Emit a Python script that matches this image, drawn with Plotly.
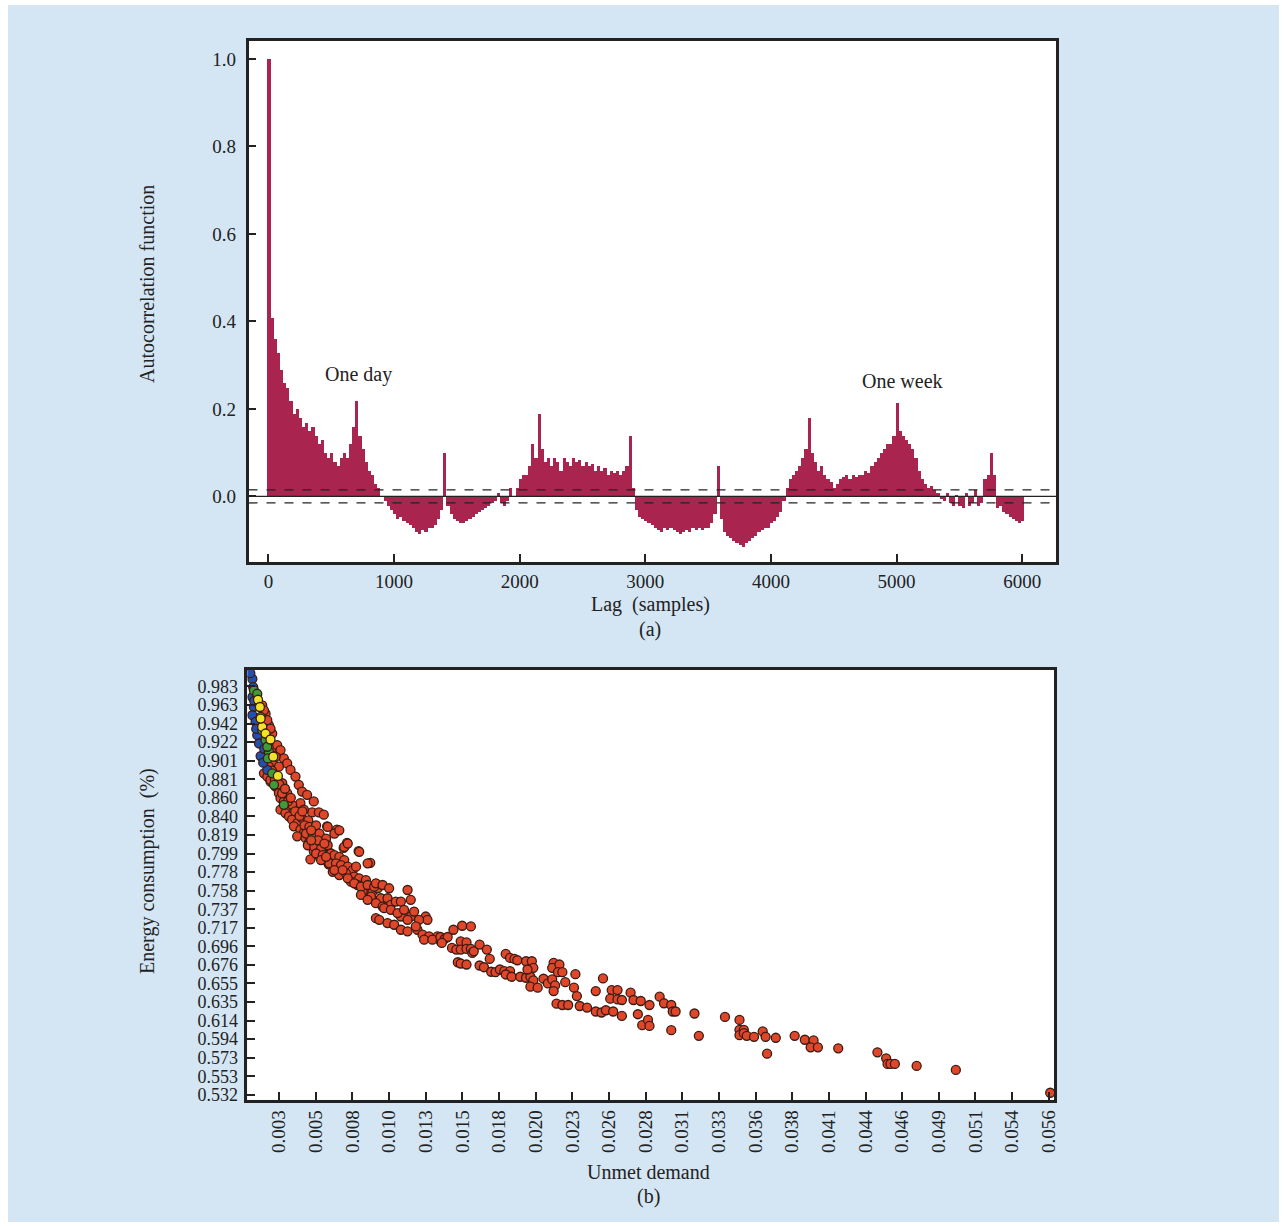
import plotly.graph_objects as go

W, H = 1286, 1226

# ---------------- Panel (a): autocorrelation ----------------
lag_step = 25
lags = list(range(0, 6001, lag_step))
acf = [
    1.00, 0.41, 0.36, 0.33, 0.29, 0.26, 0.25, 0.22, 0.19, 0.20, 0.18, 0.16, 0.17, 0.15, 0.16, 0.14, 0.12, 0.13, 0.10, 0.09,
    0.10, 0.08, 0.07, 0.09, 0.10, 0.09, 0.12, 0.16, 0.22, 0.14, 0.11, 0.08, 0.06, 0.05, 0.03, 0.02, 0.00, -0.01, -0.02, -0.03,
    -0.04, -0.05, -0.045, -0.055, -0.06, -0.065, -0.07, -0.08, -0.085, -0.075, -0.08, -0.07, -0.07, -0.065, -0.05, -0.03, 0.10, -0.02, -0.04, -0.05,
    -0.055, -0.06, -0.06, -0.055, -0.05, -0.045, -0.04, -0.035, -0.03, -0.025, -0.02, -0.015, -0.01, 0.01, -0.015, -0.02, -0.01, 0.02, 0.00, 0.02,
    0.04, 0.05, 0.05, 0.07, 0.12, 0.09, 0.19, 0.11, 0.08, 0.09, 0.07, 0.09, 0.08, 0.06, 0.09, 0.08, 0.07, 0.09, 0.08, 0.085,
    0.07, 0.08, 0.07, 0.075, 0.06, 0.07, 0.06, 0.065, 0.05, 0.06, 0.055, 0.06, 0.05, 0.06, 0.07, 0.14, 0.02, -0.03, -0.045, -0.05,
    -0.055, -0.06, -0.065, -0.07, -0.075, -0.08, -0.07, -0.075, -0.07, -0.075, -0.08, -0.085, -0.08, -0.075, -0.08, -0.07, -0.075, -0.07, -0.075, -0.07,
    -0.07, -0.06, -0.04, 0.07, -0.05, -0.08, -0.09, -0.095, -0.10, -0.105, -0.11, -0.115, -0.105, -0.10, -0.095, -0.09, -0.08, -0.075, -0.07, -0.07,
    -0.06, -0.055, -0.045, -0.035, -0.01, 0.02, 0.04, 0.05, 0.06, 0.07, 0.09, 0.11, 0.18, 0.10, 0.08, 0.06, 0.07, 0.05, 0.04, 0.035,
    0.02, 0.03, 0.04, 0.045, 0.05, 0.04, 0.05, 0.045, 0.05, 0.05, 0.06, 0.055, 0.07, 0.08, 0.09, 0.10, 0.11, 0.12, 0.12, 0.14,
    0.215, 0.15, 0.14, 0.13, 0.12, 0.11, 0.09, 0.06, 0.04, 0.03, 0.02, 0.025, 0.015, 0.01, -0.005, -0.01, 0.01, -0.015, -0.02, 0.005,
    -0.02, -0.025, 0.01, -0.02, -0.015, 0.015, -0.02, -0.015, 0.04, 0.05, 0.10, 0.05, -0.025, -0.02, -0.035, -0.04, -0.045, -0.05, -0.055, -0.06,
    -0.055,
]
conf_bound = 0.015
acf_ticks = [0.0, 0.2, 0.4, 0.6, 0.8, 1.0]
lag_ticks = [0, 1000, 2000, 3000, 4000, 5000, 6000]
annot_a = [("One day", 720, 0.278), ("One week", 5044, 0.264)]

# ---------------- Panel (b): scatter ----------------
x_tick_labels = ["0.003", "0.005", "0.008", "0.010", "0.013", "0.015", "0.018", "0.020", "0.023", "0.026", "0.028",
                 "0.031", "0.033", "0.036", "0.038", "0.041", "0.044", "0.046", "0.049", "0.051", "0.054", "0.056"]
y_tick_labels = ["0.983", "0.963", "0.942", "0.922", "0.901", "0.881", "0.860", "0.840", "0.819", "0.799", "0.778", "0.758",
                 "0.737", "0.717", "0.696", "0.676", "0.655", "0.635", "0.614", "0.594", "0.573", "0.553", "0.532"]

red_points = [
    # upper part of the curve
    (0.00183, 0.9621), (0.00206, 0.9529), (0.00229, 0.9402), (0.00252, 0.9310), (0.00240, 0.9200), (0.00264, 0.9145),
    (0.00286, 0.9072), (0.00206, 0.9419), (0.00195, 0.9566), (0.00218, 0.9457), (0.00240, 0.9365), (0.00286, 0.9182),
    (0.00309, 0.9127), (0.00332, 0.9035), (0.00355, 0.8980), (0.00378, 0.8908), (0.00412, 0.8834), (0.00435, 0.8743),
    (0.00458, 0.8669), (0.00492, 0.8633), (0.00538, 0.8560), (0.00527, 0.8439), (0.00573, 0.8439), (0.00607, 0.8414),
    (0.00630, 0.8285), (0.00698, 0.8249), (0.00744, 0.8047), (0.00767, 0.8102), (0.00847, 0.8011), (0.00927, 0.7882),
    # dense band
    (0.00195, 0.8870), (0.00218, 0.8834), (0.00240, 0.8779), (0.00275, 0.8724), (0.00298, 0.8651), (0.00309, 0.8596),
    (0.00332, 0.8560), (0.00355, 0.8505), (0.00309, 0.8469), (0.00343, 0.8431), (0.00367, 0.8395), (0.00389, 0.8359),
    (0.00424, 0.8321), (0.00401, 0.8285), (0.00446, 0.8249), (0.00470, 0.8212), (0.00424, 0.8175), (0.00481, 0.8157),
    (0.00504, 0.8102), (0.00527, 0.8066), (0.00538, 0.8011), (0.00561, 0.7974), (0.00595, 0.7937), (0.00630, 0.7901),
    (0.00641, 0.7865), (0.00676, 0.7956), (0.00721, 0.7920), (0.00515, 0.7920), (0.00584, 0.8139), (0.00607, 0.8102),
    (0.00573, 0.8029), (0.00458, 0.8376), (0.00492, 0.8321), (0.00538, 0.8285), (0.00561, 0.8212), (0.00446, 0.8541),
    (0.00470, 0.8469), (0.00389, 0.8523), (0.00355, 0.8651), (0.00321, 0.8761), (0.00286, 0.8834), (0.00264, 0.8963),
    (0.00298, 0.8944), (0.00275, 0.9054), (0.00240, 0.8798), (0.00229, 0.8944),
    (0.00410, 0.8450), (0.00440, 0.8400), (0.00360, 0.8560), (0.00320, 0.8650), (0.00500, 0.8350), (0.00530, 0.8250),
    (0.00580, 0.8180), (0.00600, 0.8050), (0.00650, 0.7990), (0.00700, 0.7910), (0.00270, 0.8800), (0.00250, 0.8900),
    (0.00300, 0.8750), (0.00340, 0.8700), (0.00380, 0.8600), (0.00460, 0.8450),
    (0.00474, 0.8296), (0.00508, 0.8278), (0.00554, 0.8296), (0.00485, 0.8205), (0.00531, 0.8186), (0.00577, 0.8205),
    (0.00623, 0.8150), (0.00497, 0.8076), (0.00542, 0.8058), (0.00588, 0.8040), (0.00634, 0.8076), (0.00657, 0.7985),
    (0.00554, 0.7985), (0.00600, 0.7967), (0.00680, 0.7967), (0.00714, 0.7948), (0.00748, 0.7912), (0.00645, 0.7876),
    (0.00691, 0.7876), (0.00726, 0.7857), (0.00772, 0.7839), (0.00806, 0.7802), (0.00669, 0.7783), (0.00714, 0.7747),
    (0.00760, 0.7766), (0.00817, 0.7729), (0.00851, 0.7711), (0.00897, 0.7692), (0.00794, 0.7674), (0.00840, 0.7637),
    (0.00897, 0.7582), (0.00943, 0.7564), (0.00978, 0.7601), (0.00932, 0.7509), (0.01000, 0.7491), (0.01046, 0.7491),
    (0.00875, 0.7564),
    (0.00520, 0.8241), (0.00566, 0.8131), (0.00611, 0.8095), (0.00520, 0.8131), (0.00588, 0.7912), (0.00623, 0.7948),
    (0.00680, 0.7802), (0.00737, 0.7802), (0.00772, 0.7711), (0.00817, 0.7656), (0.00863, 0.7619), (0.00909, 0.7637),
    (0.00954, 0.7619), (0.00863, 0.7527), (0.00909, 0.7473), (0.00966, 0.7436), (0.01012, 0.7399), (0.01069, 0.7418),
    (0.01138, 0.7289), (0.01206, 0.7289), (0.01252, 0.7143),
    (0.00634, 0.8278), (0.00680, 0.8205), (0.00714, 0.8241), (0.00748, 0.8058), (0.00772, 0.8095), (0.00851, 0.8003),
    (0.00829, 0.7839), (0.00909, 0.7876), (0.00966, 0.7656), (0.01012, 0.7637), (0.01057, 0.7601), (0.01184, 0.7582),
    (0.01103, 0.7454), (0.01138, 0.7454), (0.01206, 0.7473), (0.01023, 0.7381), (0.01069, 0.7363), (0.01115, 0.7327),
    (0.01160, 0.7363), (0.01229, 0.7344), (0.01309, 0.7289), (0.01321, 0.7253), (0.01263, 0.7253), (0.01184, 0.7253),
    (0.00966, 0.7271), (0.00989, 0.7253), (0.01046, 0.7217), (0.01092, 0.7198), (0.01138, 0.7143), (0.01184, 0.7125),
    (0.01241, 0.7180), (0.01287, 0.7088), (0.01332, 0.7070), (0.01390, 0.7070), (0.01298, 0.7033), (0.01355, 0.7033),
    (0.01412, 0.7015),
    # middle part
    (0.0150, 0.7143), (0.0156, 0.7187), (0.0162, 0.7180), (0.0141, 0.7063), (0.0144, 0.7041), (0.0146, 0.7063),
    (0.0142, 0.6997), (0.0149, 0.6942), (0.0152, 0.6924), (0.0155, 0.7015), (0.0159, 0.7004), (0.0155, 0.6924),
    (0.0159, 0.6931), (0.0162, 0.6931), (0.0163, 0.6887), (0.0164, 0.6905), (0.0153, 0.6784), (0.0155, 0.6770),
    (0.0159, 0.6759), (0.0168, 0.6979), (0.0173, 0.6924), (0.0175, 0.6821), (0.0168, 0.6748), (0.0171, 0.6729),
    (0.0176, 0.6679), (0.0179, 0.6674), (0.0182, 0.6704), (0.0185, 0.6685), (0.0189, 0.6685), (0.0186, 0.6876),
    (0.0189, 0.6832), (0.0192, 0.6821), (0.0194, 0.6806), (0.0186, 0.6649), (0.0190, 0.6624), (0.0196, 0.6624),
    (0.0200, 0.6613), (0.0203, 0.6624), (0.0200, 0.6795), (0.0204, 0.6795), (0.0205, 0.6723), (0.0201, 0.6704),
    (0.0205, 0.6583), (0.0203, 0.6514), (0.0208, 0.6503), (0.0212, 0.6602), (0.0215, 0.6550), (0.0218, 0.6594),
    (0.0220, 0.6528), (0.0219, 0.6466), (0.0219, 0.6778), (0.0218, 0.6723), (0.0223, 0.6759), (0.0222, 0.6674),
    (0.0225, 0.6674), (0.0227, 0.6564), (0.0234, 0.6652), (0.0233, 0.6503), (0.0235, 0.6411), (0.0221, 0.6327),
    (0.0225, 0.6312), (0.0229, 0.6312), (0.0237, 0.6301), (0.0242, 0.6283), (0.0248, 0.6466), (0.0253, 0.6605),
    (0.0248, 0.6240), (0.0252, 0.6229), (0.0255, 0.6254), (0.0260, 0.6240), (0.0259, 0.6477), (0.0263, 0.6477),
    (0.0258, 0.6382), (0.0263, 0.6374), (0.0266, 0.6367), (0.0266, 0.6191), (0.0272, 0.6448), (0.0274, 0.6367),
    (0.0279, 0.6356), (0.0277, 0.6210), (0.0285, 0.6312), (0.0280, 0.6089), (0.0284, 0.6147), (0.0285, 0.6081),
    # tail
    (0.0292, 0.6404), (0.0295, 0.6331), (0.0300, 0.6312), (0.0301, 0.6240), (0.0303, 0.6240), (0.0300, 0.6034),
    (0.0316, 0.6218), (0.0319, 0.5972), (0.0337, 0.6180), (0.0347, 0.6147), (0.0347, 0.6038), (0.0350, 0.6038),
    (0.0347, 0.5979), (0.0350, 0.6001), (0.0352, 0.5972), (0.0357, 0.5961), (0.0363, 0.6020), (0.0365, 0.5961),
    (0.0366, 0.5774), (0.0372, 0.5950), (0.0385, 0.5972), (0.0392, 0.5928), (0.0398, 0.5921), (0.0396, 0.5844),
    (0.0401, 0.5844), (0.0415, 0.5833), (0.0442, 0.5789), (0.0448, 0.5723), (0.0449, 0.5661), (0.0451, 0.5661),
    (0.0454, 0.5661), (0.0469, 0.5639), (0.0496, 0.5595), (0.0561, 0.5343),
]
blue_points = [
    (0.00115, 0.9913), (0.00121, 0.9822), (0.00115, 0.9713), (0.00126, 0.9603), (0.00115, 0.9512), (0.00137, 0.9438),
    (0.00149, 0.9292), (0.00161, 0.9200), (0.00172, 0.9061), (0.00218, 0.8908), (0.00101, 0.9976), (0.00128, 0.9669),
    (0.00142, 0.9361), (0.00190, 0.8988), (0.00197, 0.9141),
]
green_points = [
    (0.00126, 0.9786), (0.00149, 0.9749), (0.00172, 0.9493), (0.00183, 0.9347), (0.00206, 0.9237), (0.00229, 0.9109),
    (0.00222, 0.9035), (0.00252, 0.8870), (0.00264, 0.8743), (0.00332, 0.8523), (0.00218, 0.9164),
]
yellow_points = [
    (0.00154, 0.9683), (0.00167, 0.9603), (0.00183, 0.9383), (0.00206, 0.9310), (0.00240, 0.9244), (0.00259, 0.9054),
    (0.00291, 0.8842), (0.00172, 0.9475),
]

# ---------------- styling ----------------
FONT = "Liberation Serif"
INK = "#222222"
BAR = "#a9244f"
BLUE_BG = "#d4e6f4"


def px_x(p):
    return p / W


def px_y(p):
    return 1 - p / H


fig = go.Figure()

fig.add_trace(go.Bar(x=lags, y=acf, marker=dict(color=BAR, line=dict(width=0)),
                     xaxis="x", yaxis="y", showlegend=False))


def add_points(pts, color, name):
    fig.add_trace(go.Scatter(
        x=[p[0] for p in pts], y=[p[1] for p in pts], mode="markers", name=name,
        marker=dict(size=9, color=color, line=dict(color="#3a1c12", width=1.3)),
        xaxis="x2", yaxis="y2", showlegend=False))


add_points(red_points, "#e0462a", "red")
add_points(blue_points, "#2350b0", "blue")
add_points(green_points, "#3f9a3a", "green")
add_points(yellow_points, "#f2e22a", "yellow")


def axis_style(size):
    return dict(showline=True, linewidth=2.5, linecolor=INK, mirror=True, ticks="inside",
                ticklen=8, tickwidth=2, tickcolor=INK, showgrid=False, zeroline=False,
                tickfont=dict(family=FONT, size=size, color=INK))


x2_vals = [0.003 + i * (0.053 / 21) for i in range(len(x_tick_labels))]
y2_vals = [0.983 - i * (0.451 / 22) for i in range(len(y_tick_labels))]

# plot areas in page pixels: (left, top, right, bottom)
AREA_A = (248.5, 40.5, 1056.3, 562.0)
AREA_B = (247.3, 669.5, 1054.0, 1099.8)
PANEL = (8, 5, 1279, 1222)

fig.update_layout(
    template="none",
    width=W, height=H, margin=dict(l=0, r=0, t=0, b=0),
    paper_bgcolor="#ffffff", plot_bgcolor="#ffffff", bargap=0,
    font=dict(family=FONT, color=INK),
    xaxis=dict(domain=[AREA_A[0] / W, AREA_A[2] / W], range=[-159, 6271], tickvals=lag_ticks,
               anchor="y", **axis_style(19)),
    yaxis=dict(domain=[px_y(AREA_A[3]), px_y(AREA_A[1])], range=[-0.150, 1.042], tickvals=acf_ticks,
               tickformat=".1f", anchor="x", ticklabelstandoff=6, **axis_style(19)),
    xaxis2=dict(domain=[AREA_B[0] / W, AREA_B[2] / W], range=[0.000803, 0.05636], tickvals=x2_vals,
                ticktext=x_tick_labels, tickangle=-90, anchor="y2", **axis_style(19)),
    yaxis2=dict(domain=[px_y(AREA_B[3]), px_y(AREA_B[1])], range=[0.5265, 1.0017], tickvals=y2_vals,
                ticktext=y_tick_labels, anchor="x2", ticklabelstandoff=3, **axis_style(18)),
)

# light-blue panel built from strips that never overlap the two plotting areas;
# the side strips overlap the horizontal strips a little so no seams show.
pl, pt, pr, pb = PANEL
o = 3
strips = [
    (pl, pt, pr, AREA_A[1]),                         # above (a)
    (pl, AREA_A[3], pr, AREA_B[1]),                  # between (a) and (b)
    (pl, AREA_B[3], pr, pb),                         # below (b)
    (pl, AREA_A[1] - o, AREA_A[0], AREA_A[3] + o),   # left of (a)
    (AREA_A[2], AREA_A[1] - o, pr, AREA_A[3] + o),   # right of (a)
    (pl, AREA_B[1] - o, AREA_B[0], AREA_B[3] + o),   # left of (b)
    (AREA_B[2], AREA_B[1] - o, pr, AREA_B[3] + o),   # right of (b)
]
shapes = [dict(type="rect", xref="paper", yref="paper", x0=px_x(l), x1=px_x(r), y0=px_y(b), y1=px_y(t),
               fillcolor=BLUE_BG, line=dict(width=0), layer="below") for l, t, r, b in strips]
shapes += [
    dict(type="line", xref="x domain", yref="y", x0=0, x1=1, y0=0, y1=0,
         line=dict(color=INK, width=1.3)),
    dict(type="line", xref="x domain", yref="y", x0=0, x1=1, y0=conf_bound, y1=conf_bound,
         line=dict(color=INK, width=1.3, dash="dash")),
    dict(type="line", xref="x domain", yref="y", x0=0, x1=1, y0=-conf_bound, y1=-conf_bound,
         line=dict(color=INK, width=1.3, dash="dash")),
]
fig.update_layout(shapes=shapes)

annotations = []
for text, lx, ly in annot_a:
    annotations.append(dict(text=text, x=lx, y=ly, xref="x", yref="y", showarrow=False,
                            font=dict(family=FONT, size=20, color=INK)))

paper_texts = [
    ("Lag\u00a0\u00a0(samples)", 650, 605, 0),
    ("(a)", 650, 629, 0),
    ("Unmet demand", 648, 1172, 0),
    ("(b)", 648, 1196, 0),
    ("Autocorrelation function", 147, 284, -90),
    ("Energy consumption\u00a0\u00a0(%)", 147, 871, -90),
]
for text, tx, ty, ang in paper_texts:
    annotations.append(dict(text=text, x=px_x(tx), y=px_y(ty), xref="paper", yref="paper",
                            showarrow=False, textangle=ang, xanchor="center", yanchor="middle",
                            font=dict(family=FONT, size=20, color=INK)))
fig.update_layout(annotations=annotations)

fig.write_html("out.html")
